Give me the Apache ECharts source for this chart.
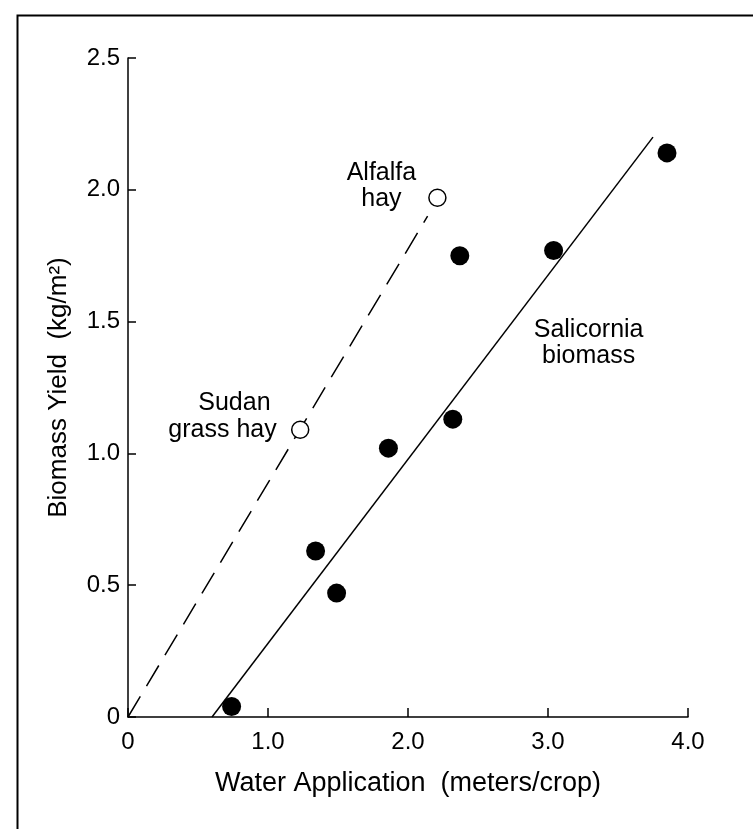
<!DOCTYPE html>
<html>
<head>
<meta charset="utf-8">
<title>Biomass Yield vs Water Application</title>
<script src="https://cdn.jsdelivr.net/npm/echarts@6/dist/echarts.min.js"></script>
<style>
	html, body { margin: 0; padding: 0; background: #fff; }
	#chart { width: 753px; height: 829px; }
</style>
</head>
<body>
<div id="chart"></div>
<script>
// x ticks / y ticks
var xTicks = [0, 1, 2, 3, 4];
var yTicks = [0, 0.5, 1.0, 1.5, 2.0, 2.5];

// Salicornia (filled dots): water, yield
var salicorniaWater = [0.74, 1.34, 1.49, 1.86, 2.32, 2.37, 3.04, 3.85];
var salicorniaYield = [0.04, 0.63, 0.47, 1.02, 1.13, 1.75, 1.77, 2.14];

// conventional crops (open circles)
var cropWater = [1.23, 2.21];
var cropYield = [1.09, 1.97];

// fitted lines (start / end)
var salicorniaFitX = [0.60, 3.75];
var salicorniaFitY = [0, 2.20];
var cropFitX = [0, 2.14];
var cropFitY = [0, 1.90];

var FONT = 'Liberation Sans';
var INK = '#000';

function pairs(xs, ys) {
	return xs.map(function(x, i) { return [x, ys[i]]; });
}

function tickText(v) {
	return v === 0 ? '0' : v.toFixed(1);
}

var chart = echarts.init(document.getElementById('chart'));

var option = {
	backgroundColor: '#fff',
	animation: false,
	textStyle: { fontFamily: FONT, color: INK },
	// outer frame of the original figure
	graphic: [{
		type: 'rect',
		left: 15,
		top: 13,
		shape: { width: 800, height: 900 },
		style: { fill: 'none', stroke: INK, lineWidth: 2 },
		silent: true
	}],
	grid: { left: 128, right: 65, top: 58, bottom: 112 },
	xAxis: {
		type: 'value',
		min: xTicks[0],
		max: xTicks[xTicks.length - 1],
		interval: 1,
		name: 'Water Application  (meters/crop)',
		nameLocation: 'middle',
		nameGap: 53,
		nameTextStyle: { fontFamily: FONT, fontSize: 27, color: INK },
		axisLine: { onZero: false, lineStyle: { color: INK, width: 1.5 } },
		axisTick: { inside: true, length: 9, lineStyle: { color: INK, width: 1.5 } },
		axisLabel: { formatter: tickText, fontFamily: FONT, fontSize: 24, color: INK, margin: 13 },
		splitLine: { show: false }
	},
	yAxis: {
		type: 'value',
		min: yTicks[0],
		max: yTicks[yTicks.length - 1],
		interval: 0.5,
		name: 'Biomass Yield  (kg/m²)',
		nameLocation: 'middle',
		nameGap: 56,
		nameRotate: 90,
		nameTextStyle: { fontFamily: FONT, fontSize: 26, color: INK },
		axisLine: { onZero: false, lineStyle: { color: INK, width: 1.5 } },
		axisTick: { inside: true, length: 8, lineStyle: { color: INK, width: 1.5 } },
		axisLabel: { formatter: tickText, fontFamily: FONT, fontSize: 24, color: INK, margin: 8 },
		splitLine: { show: false }
	},
	series: [
		{
			name: 'Crop fit',
			type: 'line',
			data: pairs(cropFitX, cropFitY),
			symbol: 'none',
			lineStyle: { color: INK, width: 1.5, type: [24, 12] },
			z: 2
		},
		{
			name: 'Salicornia fit',
			type: 'line',
			data: pairs(salicorniaFitX, salicorniaFitY),
			symbol: 'none',
			lineStyle: { color: INK, width: 1.5 },
			z: 2,
			// text annotations, placed in data space
			markPoint: {
				symbol: 'circle',
				symbolSize: 0,
				label: {
					show: true,
					position: 'inside',
					formatter: '{b}',
					fontFamily: FONT,
					fontSize: 25,
					lineHeight: 26,
					color: INK,
					align: 'center'
				},
				data: [
					{ name: 'Salicornia\nbiomass', coord: [3.29, 1.42] },
					{ name: 'Sudan', coord: [0.76, 1.19] },
					{ name: 'grass hay', coord: [0.675, 1.088] },
					{ name: 'Alfalfa\nhay', coord: [1.81, 2.015] }
				]
			}
		},
		{
			name: 'Salicornia',
			type: 'scatter',
			data: pairs(salicorniaWater, salicorniaYield),
			symbol: 'circle',
			symbolSize: 19,
			itemStyle: { color: INK, opacity: 1 },
			z: 3
		},
		{
			name: 'Crops',
			type: 'scatter',
			data: pairs(cropWater, cropYield),
			symbol: 'circle',
			symbolSize: 17,
			itemStyle: { color: '#fff', borderColor: INK, borderWidth: 1.5, opacity: 1 },
			z: 3
		}
	]
};

chart.setOption(option);
</script>
</body>
</html>
